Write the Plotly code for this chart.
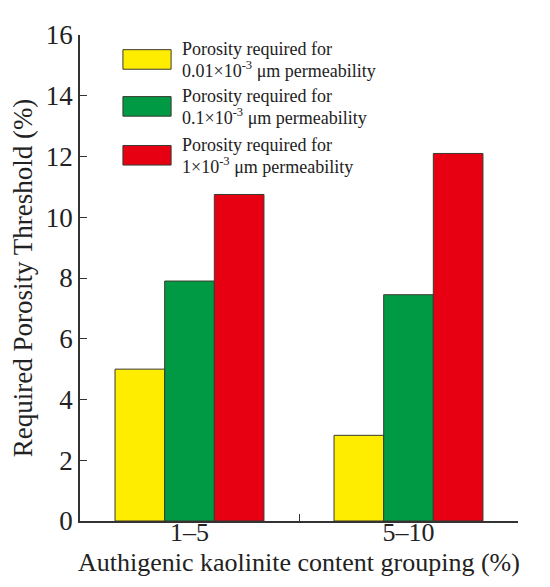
import plotly.graph_objects as go

# Data
groups = ["1\u20135", "5\u201310"]
porosity_001 = [5.0, 2.82]
porosity_01 = [7.9, 7.45]
porosity_1 = [10.75, 12.1]

label_top = "Porosity required for"
label_bottom = [
    "0.01\u00d710<sup>-3</sup> \u03bcm permeability",
    "0.1\u00d710<sup>-3</sup> \u03bcm permeability",
    "1\u00d710<sup>-3</sup> \u03bcm permeability",
]
colors = ["#FFED00", "#009A44", "#E60012"]

font_family = "Liberation Serif"

fig = go.Figure()

for vals, name, color in zip([porosity_001, porosity_01, porosity_1], label_bottom, colors):
    fig.add_trace(go.Bar(
        x=groups,
        y=vals,
        name=label_top + " " + name,
        marker=dict(color=color, line=dict(color="#3a3a30", width=1)),
        showlegend=False,
    ))

# Hand-made legend: big swatches with two-line labels (pixel rows -> paper)
plot_top, plot_h = 16, 497
def py(px):
    return 1 - (px - plot_top) / plot_h

box_centers = [41, 89, 139]
for yc, bottom, color in zip(box_centers, label_bottom, colors):
    fig.add_shape(
        type="rect", xref="paper", yref="paper",
        x0=0.098, x1=0.208, y0=py(yc + 10), y1=py(yc - 10),
        fillcolor=color, line=dict(color="#3a3a30", width=1),
    )
    fig.add_annotation(
        xref="paper", yref="paper", x=0.228, y=py(yc - 11),
        xanchor="left", yanchor="middle", text=label_top, showarrow=False,
        font=dict(family=font_family, size=18, color="#222"),
    )
    fig.add_annotation(
        xref="paper", yref="paper", x=0.228, y=py(yc + 10),
        xanchor="left", yanchor="middle", text=bottom, showarrow=False,
        font=dict(family=font_family, size=18, color="#222"),
    )

# X axis title placed as an annotation so it sits close under the tick labels
fig.add_annotation(
    xref="paper", yref="paper", x=0.5, y=py(555),
    xanchor="center", yanchor="middle", showarrow=False,
    text="Authigenic kaolinite content grouping (%)",
    font=dict(family=font_family, size=26, color="#222"),
)

fig.update_layout(
    width=550,
    height=587,
    margin=dict(l=72, r=40, t=16, b=74),
    paper_bgcolor="white",
    plot_bgcolor="white",
    barmode="group",
    bargap=0.32,
    bargroupgap=0,
    font=dict(family=font_family, color="#222"),
)

fig.update_xaxes(
    showline=True, linecolor="#333", linewidth=1.5,
    ticks="inside", tickson="boundaries", ticklen=7, tickcolor="#333",
    tickfont=dict(size=26), ticklabelstandoff=-13,
)

fig.update_yaxes(
    range=[0, 16], dtick=2,
    showline=True, linecolor="#333", linewidth=1.5,
    ticks="inside", ticklen=7, tickcolor="#333",
    showgrid=False, zeroline=False,
    tickfont=dict(size=27),
    title=dict(text="Required Porosity Threshold (%)", font=dict(size=27), standoff=6),
)

fig.write_html("out.html")
